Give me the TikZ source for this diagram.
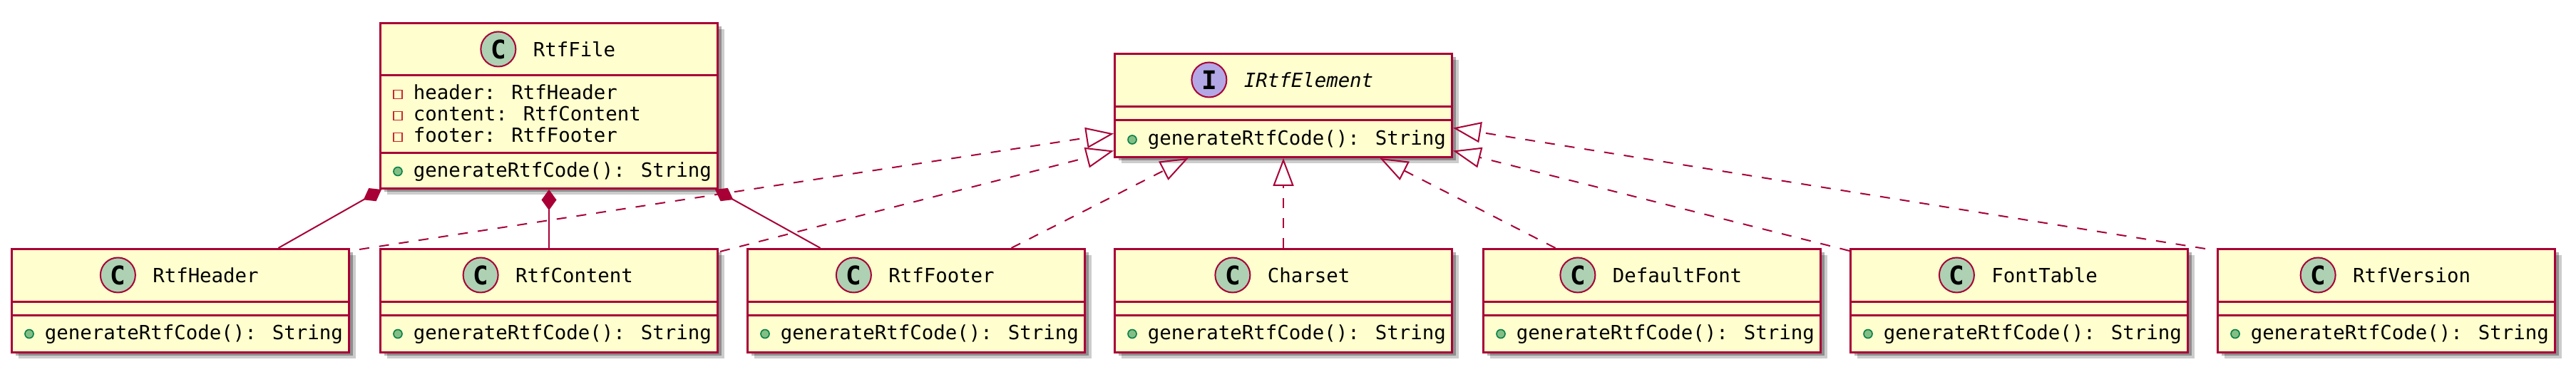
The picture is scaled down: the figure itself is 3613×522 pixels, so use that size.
\documentclass[tikz,border=0pt]{standalone}
\usepackage{fontspec}
\newfontfamily\umlmono{DejaVu Sans Mono}
\usetikzlibrary{arrows.meta,shadows}
\definecolor{umlred}{HTML}{A80036}
\definecolor{umlfill}{HTML}{FEFECE}
\definecolor{cfill}{HTML}{ADD1B2}
\definecolor{ifill}{HTML}{B4A7E5}
\definecolor{pubfill}{HTML}{84BE84}
\definecolor{publine}{HTML}{038048}
\definecolor{privline}{HTML}{C82930}
\newcommand\umltext{\umlmono\fontsize{13.7pt}{16pt}\selectfont}
\tikzset{
  cls/.style={draw=umlred,fill=umlfill,line width=1.5pt,minimum width=236.5pt,minimum height=72.5pt,anchor=north west,inner sep=0pt,
    drop shadow={shadow xshift=2.5pt,shadow yshift=-2.5pt,opacity=.3,fill=black},
    drop shadow={shadow xshift=4.5pt,shadow yshift=-4.5pt,opacity=.2,fill=black}},
  sep/.style={draw=umlred,line width=1.5pt},
  title/.style={font=\umltext,anchor=base,inner sep=0pt},
  member/.style={font=\umltext,anchor=base west,inner sep=0pt},
  cicon/.style={circle,draw=umlred,fill=cfill,line width=1pt,minimum size=24.5pt,inner sep=0pt,font=\umlmono\bfseries\fontsize{18pt}{18pt}\selectfont},
  iicon/.style={cicon,fill=ifill},
  pub/.style={circle,draw=publine,fill=pubfill,line width=.8pt,minimum size=6pt,inner sep=0pt},
  priv/.style={rectangle,draw=privline,line width=.8pt,minimum size=6pt,inner sep=0pt},
  comp/.style={draw=umlred,line width=1pt,{Diamond[length=14.5pt,width=10.5pt]}-},
  real/.style={draw=umlred,line width=1pt,dash pattern=on 7pt off 7pt,-{Triangle[open,length=19.5pt,width=14.5pt]}}
}
\begin{document}
\begin{tikzpicture}[x=0.5pt,y=-0.5pt]
  \useasboundingbox (0,0) rectangle (3613,522);

  \node[cls,minimum height=116pt] (file) at (532,31) {}; \draw[sep] (532,106) -- (1005,106); \draw[sep] (532,215) -- (1005,215);
  \node[title] (fileN) at (805.5,79.5) {RtfFile}; \node[cicon] (fileC) at ([xshift=-24.25pt,yshift=5.25pt]fileN.base west) {C};
  \node[priv] (fileP1) at (558,132.5) {}; \node[member] (fileA1) at (579.5,140) {header: RtfHeader};
  \node[priv] (fileP2) at (558,162.5) {}; \node[member] (fileA2) at (579.5,170) {content: RtfContent};
  \node[priv] (fileP3) at (558,192.5) {}; \node[member] (fileA3) at (579.5,200) {footer: RtfFooter};
  \node[pub] (fileP4) at (558,240.5) {}; \node[member] (fileM) at (579.5,248.5) {generateRtfCode(): String};

  \node[cls] (ifc) at (1562,74) {}; \draw[sep] (1562,150) -- (2035,150); \draw[sep] (1562,169) -- (2035,169);
  \node[title,font=\umltext\itshape] (ifcN) at (1835.5,122.5) {IRtfElement}; \node[iicon] (ifcC) at ([xshift=-24.25pt,yshift=5.25pt]ifcN.base west) {I};
  \node[pub] (ifcP) at (1588,196) {}; \node[member] (ifcM) at (1609.5,204) {generateRtfCode(): String};

  \node[cls] (hdr) at (15,348) {}; \draw[sep] (15,424) -- (488,424); \draw[sep] (15,443) -- (488,443);
  \node[title] (hdrN) at (288.5,396.5) {RtfHeader}; \node[cicon] (hdrC) at ([xshift=-24.25pt,yshift=5.25pt]hdrN.base west) {C};
  \node[pub] (hdrP) at (41,468.5) {}; \node[member] (hdrM) at (62.5,476.5) {generateRtfCode(): String};

  \node[cls] (cnt) at (532,348) {}; \draw[sep] (532,424) -- (1005,424); \draw[sep] (532,443) -- (1005,443);
  \node[title] (cntN) at (805.5,396.5) {RtfContent}; \node[cicon] (cntC) at ([xshift=-24.25pt,yshift=5.25pt]cntN.base west) {C};
  \node[pub] (cntP) at (558,468.5) {}; \node[member] (cntM) at (579.5,476.5) {generateRtfCode(): String};

  \node[cls] (ftr) at (1047,348) {}; \draw[sep] (1047,424) -- (1520,424); \draw[sep] (1047,443) -- (1520,443);
  \node[title] (ftrN) at (1320.5,396.5) {RtfFooter}; \node[cicon] (ftrC) at ([xshift=-24.25pt,yshift=5.25pt]ftrN.base west) {C};
  \node[pub] (ftrP) at (1073,468.5) {}; \node[member] (ftrM) at (1094.5,476.5) {generateRtfCode(): String};

  \node[cls] (chs) at (1562,348) {}; \draw[sep] (1562,424) -- (2035,424); \draw[sep] (1562,443) -- (2035,443);
  \node[title] (chsN) at (1835.5,396.5) {Charset}; \node[cicon] (chsC) at ([xshift=-24.25pt,yshift=5.25pt]chsN.base west) {C};
  \node[pub] (chsP) at (1588,468.5) {}; \node[member] (chsM) at (1609.5,476.5) {generateRtfCode(): String};

  \node[cls] (dft) at (2079,348) {}; \draw[sep] (2079,424) -- (2552,424); \draw[sep] (2079,443) -- (2552,443);
  \node[title] (dftN) at (2352.5,396.5) {DefaultFont}; \node[cicon] (dftC) at ([xshift=-24.25pt,yshift=5.25pt]dftN.base west) {C};
  \node[pub] (dftP) at (2105,468.5) {}; \node[member] (dftM) at (2126.5,476.5) {generateRtfCode(): String};

  \node[cls] (ftb) at (2594,348) {}; \draw[sep] (2594,424) -- (3067,424); \draw[sep] (2594,443) -- (3067,443);
  \node[title] (ftbN) at (2867.5,396.5) {FontTable}; \node[cicon] (ftbC) at ([xshift=-24.25pt,yshift=5.25pt]ftbN.base west) {C};
  \node[pub] (ftbP) at (2620,468.5) {}; \node[member] (ftbM) at (2641.5,476.5) {generateRtfCode(): String};

  \node[cls] (ver) at (3109,348) {}; \draw[sep] (3109,424) -- (3582,424); \draw[sep] (3109,443) -- (3582,443);
  \node[title] (verN) at (3382.5,396.5) {RtfVersion}; \node[cicon] (verC) at ([xshift=-24.25pt,yshift=5.25pt]verN.base west) {C};
  \node[pub] (verP) at (3135,468.5) {}; \node[member] (verM) at (3156.5,476.5) {generateRtfCode(): String};

  \draw[comp] ([xshift=1.5pt]file.south west) -- ([xshift=68.75pt]hdr.north);
  \draw[comp] (file.south) -- (cnt.north);
  \draw[comp] ([xshift=-2.5pt]file.south east) -- ([xshift=-67.25pt]ftr.north);

  \draw[real] ([xshift=6.5pt,yshift=-1pt]hdr.north east) -- ([yshift=-19.75pt]ifc.west);
  \draw[real] ([xshift=1pt,yshift=-2.5pt]cnt.north east) -- ([yshift=-31.75pt]ifc.west);
  \draw[real] ([xshift=66.75pt]ftr.north) -- ([xshift=-66.75pt]ifc.south);
  \draw[real] (chs.north) -- (ifc.south);
  \draw[real] ([xshift=-67.75pt]dft.north) -- ([xshift=67.75pt]ifc.south);
  \draw[real] ([yshift=-2pt]ftb.north west) -- ([yshift=-31.75pt]ifc.east);
  \draw[real] ([xshift=-8pt,yshift=-0.5pt]ver.north west) -- ([yshift=-15.75pt]ifc.east);
\end{tikzpicture}
\end{document}
